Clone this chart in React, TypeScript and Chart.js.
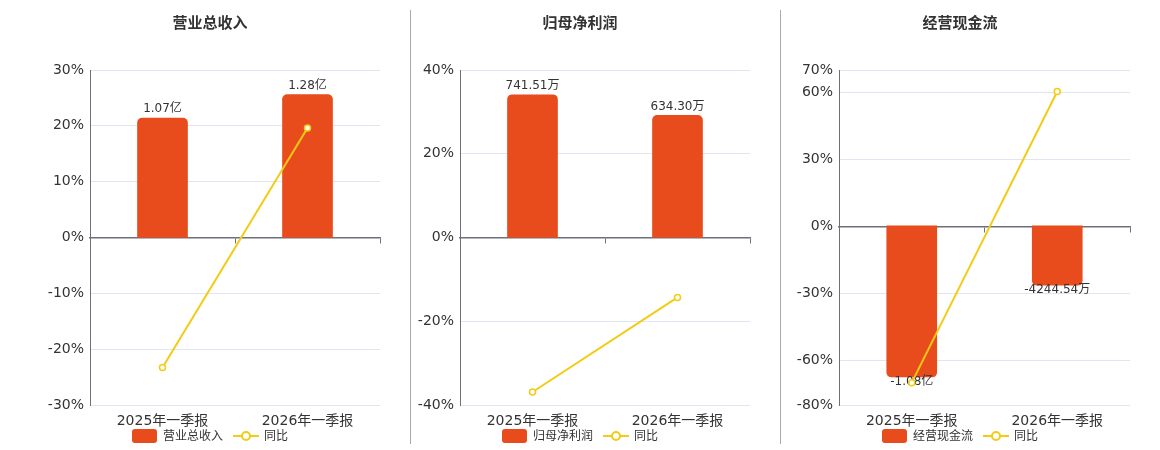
import { useEffect, useRef } from 'react';
import { Chart, registerables } from 'chart.js';

Chart.register(...registerables);

const FONT = '"DejaVu Sans", "Noto Sans CJK SC", sans-serif';
const BAR_COLOR = '#e84b1c';
const LINE_COLOR = '#f3cb14';
const AXIS_COLOR = '#6e7079';
const GRID_COLOR = '#e0e6f1';
const TEXT_COLOR = '#333';

const categories = ['2025年一季报', '2026年一季报'];

// 营业总收入 (万元) + 同比 (%)
const revenueValues = [10700, 12800];
const revenueLabels = ['1.07亿', '1.28亿'];
const revenueYoy = [-23.3, 19.6];

// 归母净利润 (万元)
const profitValues = [741.51, 634.3];
const profitLabels = ['741.51万', '634.30万'];
const profitYoy = [-36.9, -14.3];

// 经营现金流 (万元)
const cashValues = [-10800, -4244.54];
const cashLabels = ['-1.08亿', '-4244.54万'];
const cashYoy = [-70.0, 60.4];
const cashTicks = [70, 60, 30, 0, -30, -60, -80];

type PanelDef = {
  title: string;
  values: number[];
  labels: string[];
  yoy: number[];
  yMin: number;
  yMax: number;
  yStep?: number;
  yTicks?: number[];
  barMin: number;
  barMax: number;
  left: number;
  width: number;
  areaLeft: number;
  areaRight: number;
};

const panels: PanelDef[] = [
  {
    title: '营业总收入', values: revenueValues, labels: revenueLabels, yoy: revenueYoy,
    yMin: -30, yMax: 30, yStep: 10, barMin: -15000, barMax: 15000,
    left: 0, width: 420, areaLeft: 90, areaRight: 380,
  },
  {
    title: '归母净利润', values: profitValues, labels: profitLabels, yoy: profitYoy,
    yMin: -40, yMax: 40, yStep: 20, barMin: -870, barMax: 870,
    left: 400, width: 360, areaLeft: 460, areaRight: 750,
  },
  {
    title: '经营现金流', values: cashValues, labels: cashLabels, yoy: cashYoy,
    yMin: -80, yMax: 70, yTicks: cashTicks, barMin: -12800, barMax: 11140,
    left: 780, width: 360, areaLeft: 839, areaRight: 1130,
  },
];

// value labels above / below the bars, drawn before the yoy line
const barLabels = {
  id: 'barLabels',
  afterDatasetDraw(chart: any, args: any) {
    if (args.index !== 0) return;
    const texts: string[] = chart.options.plugins.barLabels.texts;
    const ctx = chart.ctx;
    ctx.save();
    ctx.font = `12px ${FONT}`;
    ctx.fillStyle = TEXT_COLOR;
    ctx.textAlign = 'center';
    ctx.textBaseline = 'middle';
    args.meta.data.forEach((bar: any, i: number) => {
      const v = chart.data.datasets[0].data[i];
      const y = v >= 0 ? bar.y - 9 : bar.y + 5;
      ctx.fillText(texts[i], bar.x, y);
    });
    ctx.restore();
  },
};

function Legend({ title }: { title: string }) {
  return (
    <div
      style={{
        position: 'absolute', left: 0, right: 0, top: 428, display: 'flex', justifyContent: 'center',
        alignItems: 'center', font: `12px ${FONT}`, color: TEXT_COLOR, lineHeight: '16px',
      }}
    >
      <span style={{ width: 25, height: 14, borderRadius: 3, background: BAR_COLOR, marginRight: 6 }} />
      <span>{title}</span>
      <span style={{ position: 'relative', width: 26, height: 14, marginLeft: 10, marginRight: 5 }}>
        <span style={{ position: 'absolute', left: 0, right: 0, top: 6, height: 2, background: LINE_COLOR }} />
        <span
          style={{
            position: 'absolute', left: 8, top: 2, width: 6, height: 6, borderRadius: '50%',
            border: `2px solid ${LINE_COLOR}`, background: '#fff',
          }}
        />
      </span>
      <span>同比</span>
    </div>
  );
}

function Panel({ def }: { def: PanelDef }) {
  const canvasRef = useRef<HTMLCanvasElement>(null);

  useEffect(() => {
    const canvas = canvasRef.current;
    if (!canvas) return;
    const chart = new Chart(canvas, {
      type: 'bar',
      data: {
        labels: categories,
        datasets: [
          {
            type: 'bar',
            label: def.title,
            data: def.values,
            backgroundColor: BAR_COLOR,
            borderRadius: 5,
            borderSkipped: 'start',
            barThickness: 50,
            yAxisID: 'y1',
            order: 2,
          },
          {
            type: 'line',
            label: '同比',
            data: def.yoy,
            borderColor: LINE_COLOR,
            borderWidth: 2,
            pointRadius: 3,
            pointBorderWidth: 1.5,
            pointBackgroundColor: '#fff',
            pointBorderColor: LINE_COLOR,
            yAxisID: 'y',
            order: 1,
          },
        ],
      } as any,
      options: {
        animation: false,
        responsive: false,
        layout: { padding: { top: 70, right: def.left + def.width - def.areaRight, bottom: 0, left: 0 } },
        plugins: {
          tooltip: { enabled: false },
          legend: { display: false },
          barLabels: { texts: def.labels },
        } as any,
        scales: {
          x: {
            offset: true,
            grid: { display: false },
            border: { display: false },
            afterFit: (axis: any) => {
              axis.height = 45;
            },
            ticks: { color: TEXT_COLOR, font: { size: 14, family: FONT }, padding: 0 },
          },
          x2: {
            type: 'category',
            position: { y: 0 },
            offset: true,
            grid: { offset: true, drawOnChartArea: false, tickLength: 5, color: AXIS_COLOR },
            border: { color: AXIS_COLOR, width: 1.5 },
            ticks: { display: false },
          },
          y: {
            min: def.yMin,
            max: def.yMax,
            afterFit: (axis: any) => {
              axis.width = def.areaLeft - def.left;
            },
            afterBuildTicks: (axis: any) => {
              if (def.yTicks) axis.ticks = def.yTicks.map((value) => ({ value }));
            },
            ticks: {
              stepSize: def.yStep,
              padding: 6,
              color: TEXT_COLOR,
              font: { size: 14, family: FONT },
              callback: (v: any) => `${v}%`,
            },
            grid: {
              drawTicks: false,
              color: (ctx: any) => (ctx.tick && ctx.tick.value === 0 ? 'transparent' : GRID_COLOR),
            },
            border: { color: AXIS_COLOR },
          },
          y1: { display: false, min: def.barMin, max: def.barMax },
        } as any,
      },
      plugins: [barLabels],
    });
    return () => chart.destroy();
  }, [def]);

  return (
    <div style={{ position: 'absolute', left: def.left, top: 0, width: def.width, height: 450 }}>
      <div
        style={{
          position: 'absolute', left: 0, top: 11, width: def.width, textAlign: 'center',
          font: `bold 15px ${FONT}`, color: TEXT_COLOR,
        }}
      >
        {def.title}
      </div>
      <canvas ref={canvasRef} width={def.width} height={450} style={{ display: 'block', width: def.width, height: 450 }} />
      <Legend title={def.title} />
    </div>
  );
}

export default function App() {
  return (
    <div style={{ position: 'fixed', left: 0, top: 0, width: 1160, height: 450, background: '#fff' }}>
      <div style={{ position: 'absolute', left: 410, top: 10, width: 1, height: 434, background: '#aaa' }} />
      <div style={{ position: 'absolute', left: 780, top: 10, width: 1, height: 434, background: '#aaa' }} />
      {panels.map((p) => (
        <Panel key={p.title} def={p} />
      ))}
    </div>
  );
}
